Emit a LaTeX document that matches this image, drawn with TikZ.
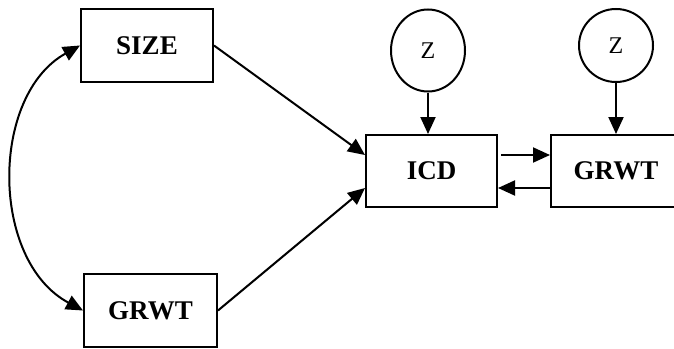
\documentclass[tikz,border=0pt]{standalone}
\usepackage{fontspec}
\setmainfont{Liberation Serif}
\usetikzlibrary{arrows.meta,shapes.geometric}
\begin{document}
\begin{tikzpicture}[x=1pt,y=1pt,
  box/.style={draw,line width=2pt,rectangle,inner sep=0pt,font=\fontsize{27}{32}\selectfont\bfseries},
  lat/.style={draw,line width=2pt,ellipse,inner sep=0pt,font=\fontsize{24}{28}\selectfont},
  arr/.style={line width=2pt,-{Triangle[length=17pt,width=15pt]}},
  darr/.style={line width=2pt,{Triangle[length=17pt,width=15pt]}-{Triangle[length=17pt,width=15pt]}}]
\clip (0,0) rectangle (674,-348);
\node[box,minimum width=132,minimum height=73] (size) at (147,-45.5) {SIZE};
\node[box,minimum width=133,minimum height=73] (grwta) at (150.5,-310.5) {GRWT};
\node[box,minimum width=131,minimum height=72] (icd) at (431.5,-171) {ICD};
\node[box,minimum width=130,minimum height=72] (grwtb) at (616,-171) {GRWT};
\node[lat,minimum width=74,minimum height=82] (z1) at (428,-50.5) {\raisebox{-3pt}{Z}};
\node[lat,minimum width=74,minimum height=73] (z2) at (616,-45.5) {\raisebox{-2pt}{Z}};
\draw[darr] (size.west) .. controls +(-90,-50) and +(-93,50) .. (grwta.west);
\draw[arr] (size.east) -- ([yshift=16]icd.west);
\draw[arr] (grwta.east) -- ([yshift=-17]icd.west);
\draw[arr] (z1.south) -- (z1.south |- icd.north);
\draw[arr] (z2.south) -- (z2.south |- grwtb.north);
\draw[arr] ([xshift=3,yshift=16]icd.east) -- ([yshift=16]grwtb.west);
\draw[arr] ([yshift=-17]grwtb.west) -- ([yshift=-17]icd.east);
\end{tikzpicture}
\end{document}
